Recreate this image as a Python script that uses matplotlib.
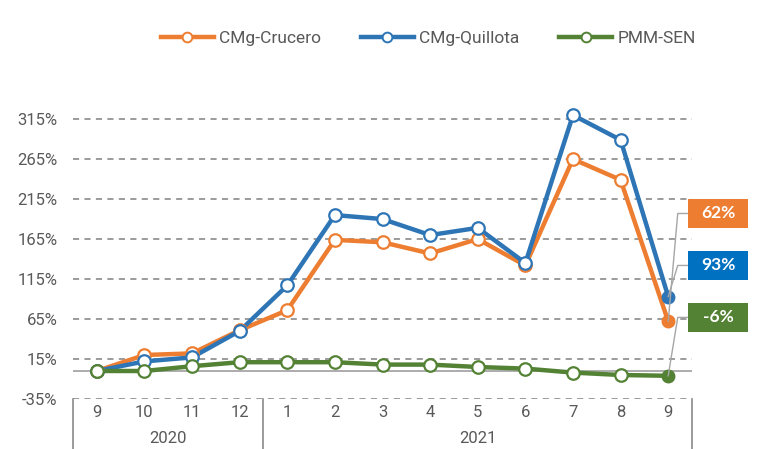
import matplotlib
matplotlib.use('Agg')
import matplotlib.pyplot as plt
from matplotlib.lines import Line2D
from matplotlib.patches import Rectangle
import matplotlib.transforms as mtransforms

months = ['9', '10', '11', '12', '1', '2', '3', '4', '5', '6', '7', '8', '9']
years = ['2020', '2021']
year_spans = [(0, 3), (4, 12)]

crucero = [0, 20, 22, 51, 76, 164, 161, 147, 165, 132, 265, 239, 62]
quillota = [0, 12, 17, 50, 107, 195, 190, 170, 179, 135, 320, 289, 93]
pmm = [0, 0, 6, 11, 11, 11, 8, 8, 5, 3, -2, -5, -6]

series = [('CMg-Crucero', crucero, '#ED7D31', '#ED7D31'),
          ('CMg-Quillota', quillota, '#2E75B6', '#0070C0'),
          ('PMM-SEN', pmm, '#548235', '#548235')]
yticks = [-35, 15, 65, 115, 165, 215, 265, 315]
end_labels = ['62%', '93%', '-6%']
label_y = [197, 132, 67]

plt.rcParams['font.family'] = ['Roboto', 'DejaVu Sans']
txt = '#595959'

fig = plt.figure(figsize=(7.65, 4.49), dpi=100)
ax = fig.add_axes([0.0954, 0.1114, 0.8092, 0.650])

x = list(range(len(months)))
for name, vals, col, boxcol in series:
    ax.plot(x, vals, '-', color=col, lw=3.2, zorder=3, solid_capstyle='round')
    ax.plot(x[:-1], vals[:-1], 'o', ms=9, mfc='white', mec=col, mew=1.6, zorder=4)
    ax.plot(x[-1], vals[-1], 'o', ms=9, mfc=col, mec=col, zorder=4)

ax.set_xlim(-0.5, len(months) - 0.5)
ax.set_ylim(-35, 330)
ax.set_yticks(yticks)
ax.set_yticklabels([f'{v}%' for v in yticks], color=txt, fontsize=12)
ax.tick_params(axis='y', length=0, pad=11)
ax.set_xticks([])
for s in ax.spines.values():
    s.set_visible(False)
for v in yticks:
    ax.axhline(v, color='#808080', lw=1.1, ls=(0, (4, 3.5)), zorder=1)
ax.axhline(0, color='#A6A6A6', lw=1.3, zorder=2)

# two-level category axis
tr = mtransforms.blended_transform_factory(ax.transData, ax.transAxes)
for xv in [-0.5, 3.5, 12.5]:
    ax.add_line(Line2D([xv, xv], [0, -0.2], transform=tr, color='#808080', lw=1.1, clip_on=False))
for i, m in enumerate(months):
    ax.text(i, -0.048, m, transform=tr, ha='center', va='center', color=txt, fontsize=12)
for yr, (a, b) in zip(years, year_spans):
    ax.text((a + b) / 2, -0.134, yr, transform=tr, ha='center', va='center', color=txt, fontsize=12)

# end-point labels with leaders
bx0, bw, bh = 12.42, 1.25, 37
for (name, vals, col, boxcol), lab, ly in zip(series, end_labels, label_y):
    ax.add_line(Line2D([12, 12.2, bx0], [vals[-1], ly, ly], color='#A6A6A6', lw=1, zorder=5, clip_on=False))
    ax.add_patch(Rectangle((bx0, ly - bh / 2), bw, bh, facecolor=boxcol, edgecolor='none', zorder=6, clip_on=False))
    ax.text(bx0 + bw / 2, ly, lab, ha='center', va='center', color='white', fontsize=12.5,
            fontweight='bold', family=['Lato', 'DejaVu Sans'], zorder=7, clip_on=False)

handles = [Line2D([], [], color=c, lw=3.2, marker='o', ms=7, mfc='white', mec=c, mew=1.4)
           for _, _, c, _ in series]
fig.legend(handles, [s[0] for s in series], loc='center', bbox_to_anchor=(0.56, 0.915), ncol=3,
           frameon=False, fontsize=12.5, handlelength=3.05, columnspacing=2.3, handletextpad=0.3,
           labelcolor=txt)

fig.savefig('out.png', dpi=100)
